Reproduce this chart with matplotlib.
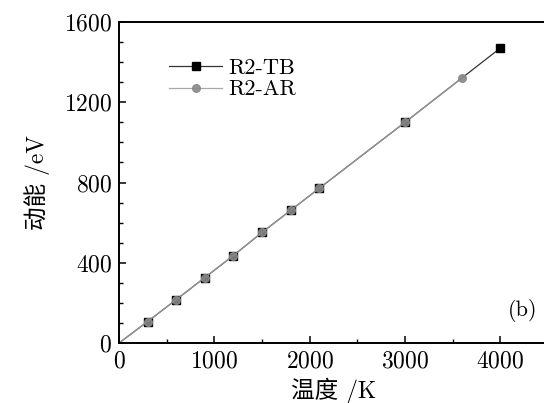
import matplotlib
matplotlib.use('Agg')
from matplotlib import pyplot as plt
from matplotlib.ticker import MultipleLocator

plt.rcParams['font.family'] = ['cmr10', 'Noto Sans CJK SC', 'DejaVu Sans']
plt.rcParams['axes.formatter.use_mathtext'] = True

# data (first point is the origin, drawn without marker)
temp_tb = [0, 300, 600, 900, 1200, 1500, 1800, 2100, 3000, 4000]
ek_tb = [0, 107, 216, 326, 436, 551, 661, 771, 1100, 1470]
temp_ar = [0, 300, 600, 900, 1200, 1500, 1800, 2100, 3000, 3600]
ek_ar = [0, 107, 216, 326, 436, 551, 661, 771, 1100, 1322]

fig = plt.figure(figsize=(5.44, 4.03), dpi=100)
W, H = 544.0, 403.0
ax1 = fig.add_axes([119 / W, (H - 343) / H, (548 - 119) / W, (343 - 22) / H])

ax1.plot(temp_tb, ek_tb, '-', marker='s', color='#333333', lw=0.9, markevery=slice(1, None),
         markerfacecolor='black', markeredgecolor='black', markersize=5.5, label='R2-TB')
ax1.plot(temp_ar, ek_ar, '-', marker='o', color='#a0a0a0', lw=0.9, markevery=slice(1, None),
         markerfacecolor='#888888', markeredgecolor='#888888', markersize=5.5, alpha=0.9,
         label='R2-AR')

ax1.set_xlim(0, 4500)
ax1.set_ylim(0, 1600)
ax1.xaxis.set_major_locator(MultipleLocator(1000))
ax1.xaxis.set_minor_locator(MultipleLocator(500))
ax1.yaxis.set_major_locator(MultipleLocator(400))
ax1.yaxis.set_minor_locator(MultipleLocator(100))
ax1.tick_params(which='both', direction='in', top=False, right=False, labelsize=17, pad=5)
ax1.tick_params(which='major', length=5, width=1.1)
ax1.tick_params(which='minor', length=3, width=1.0)
for s in ax1.spines.values():
    s.set_linewidth(1.4)
ax1.spines['right'].set_visible(False)

ax1.set_xlabel('温度 /K', fontsize=17, labelpad=4)
ax1.set_ylabel('动能 /eV', fontsize=17, labelpad=10)

ax1.legend(loc='upper left', bbox_to_anchor=(0.07, 0.95), frameon=False, fontsize=16,
           handlelength=2.4, handletextpad=0.25, labelspacing=0.1)
ax1.text(0.975, 0.065, '(b)', transform=ax1.transAxes, fontsize=16, ha='right', va='bottom')

plt.savefig('out.png', dpi=100)
